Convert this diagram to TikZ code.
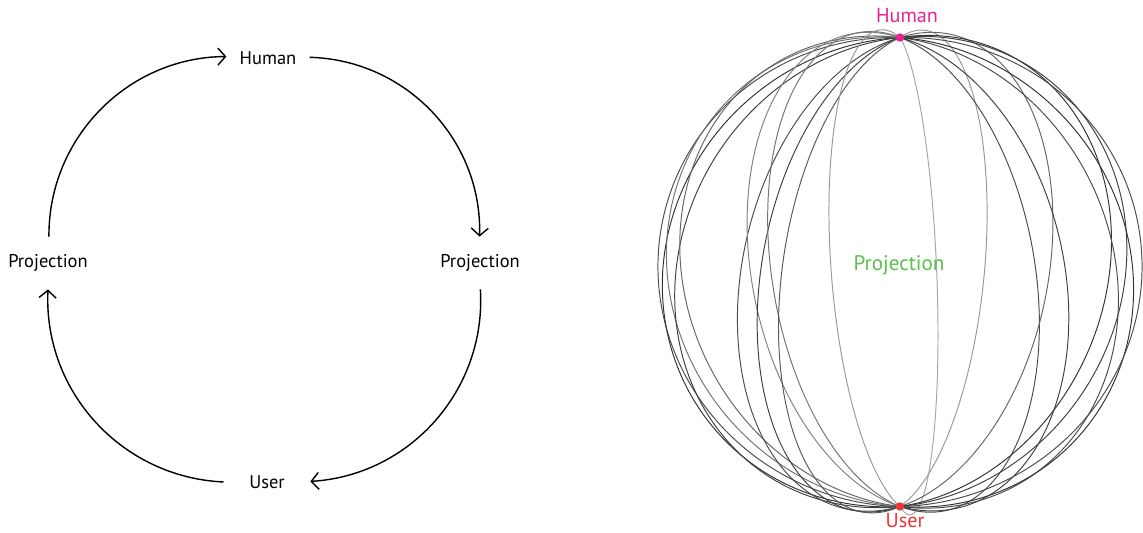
\documentclass[tikz,border=0pt]{standalone}
\usepackage{fontspec}
\setmainfont{PT Sans}
\usepackage{tikz}
\usetikzlibrary{arrows.meta,positioning}

\definecolor{humanpink}{RGB}{232,36,140}
\definecolor{userred}{RGB}{238,52,50}
\definecolor{projgreen}{RGB}{92,190,78}

\tikzset{
    lbl/.style={font=\fontsize{10.5}{12}\selectfont, inner xsep=7.4pt, inner ysep=10pt},
    cyc/.style={-{Straight Barb[length=1.5mm,width=3.4mm]}, line width=0.8pt, bend left=45},
    merid/.style={line width=0.55pt},
}

\begin{document}
\begin{tikzpicture}[x=0.02cm, y=-0.02cm]
    \useasboundingbox (0,0) rectangle (1143,533);

    % cycle on the left
    \node[lbl] (human) at (268,58) {Human};
    \node[lbl] (projR) at (480,263) {Projection};
    \node[lbl, minimum width=49pt] (user) at (267,482) {User};
    \node[lbl] (projL) at (48,263) {Projection};
    \draw[cyc] (projL) to (human);
    \draw[cyc] (human) to (projR);
    \draw[cyc] (projR) to (user);
    \draw[cyc] (user) to (projL);

    % sphere of meridians on the right
    \foreach \p/\c in {-95/70,-78/80,-106/55,-68/75,-115/60,-42/70,-141/50,-36/75,-147/55,-30/65,-163/40,
                       9/35,159/40,35/70,141/60,44/75,119.5/80,64/70,111/75,74/80,95/70}{
        \draw[merid, black!\c] plot[smooth, samples=61, domain=-90:90, variable=\t]
            ({900+243*cos(\t)*sin(\p)}, {272-243*(0.965*sin(\t)-0.262*cos(\t)*cos(\p))});
    }
    \coordinate (hpole) at (900,37.5);
    \coordinate (upole) at (900,506.5);
    \fill[humanpink] (hpole) circle[radius=2.4pt];
    \fill[userred] (upole) circle[radius=2.4pt];
    \node[font=\fontsize{11.5}{13}\selectfont, text=humanpink] (humanS) at (907,16) {Human};
    \node[font=\fontsize{11.5}{13}\selectfont, text=userred] (userS) at (905,521) {User};
    \node[font=\fontsize{12}{14}\selectfont, text=projgreen] (projS) at (899,265) {Projection};
\end{tikzpicture}
\end{document}
